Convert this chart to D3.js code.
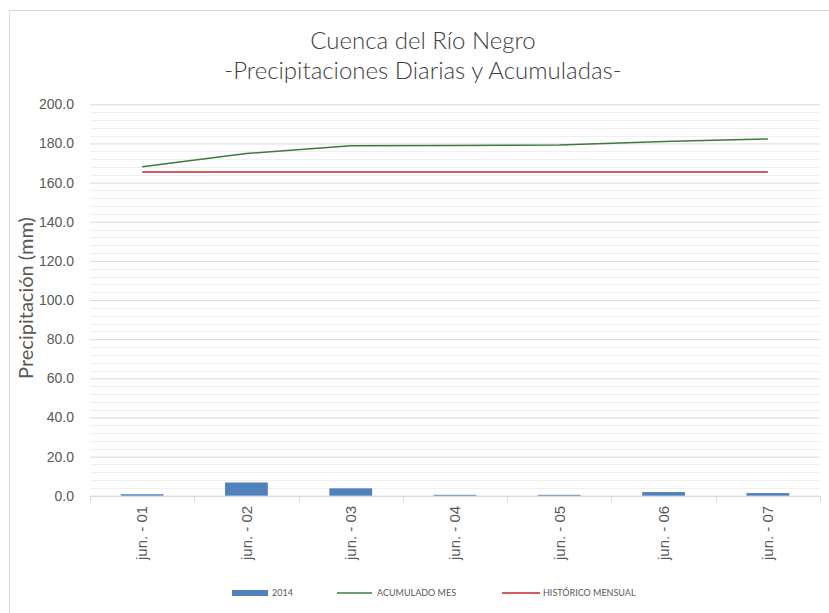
<!DOCTYPE html>
<html lang="es">
<head>
    <meta charset="UTF-8">
    <title>Cuenca del Río Negro</title>
    <script src="https://d3js.org/d3.v7.min.js"></script>
    <style>
        body { margin: 0; background: #fff; }
        svg { font-family: Lato, "Open Sans", sans-serif; }
        .tick text { fill: #595959; }
    </style>
</head>
<body>
    <svg width="829" height="613"></svg>
    <script>
        // data
        const dias = ["jun. - 01", "jun. - 02", "jun. - 03", "jun. - 04", "jun. - 05", "jun. - 06", "jun. - 07"];
        const lluvia2014 = [0.8, 6.8, 3.8, 0.5, 0.5, 1.9, 1.4];
        const acumuladoMes = [168.1, 174.9, 178.8, 179.0, 179.2, 181.0, 182.3];
        const historicoMensual = [165.4, 165.4, 165.4, 165.4, 165.4, 165.4, 165.4];
        const yTicks = [0, 20, 40, 60, 80, 100, 120, 140, 160, 180, 200];

        const svg = d3.select("svg");
        const margin = { left: 90, right: 820, top: 104.3, bottom: 495.8 };

        // chart border
        svg.append("rect")
            .attr("x", 9.5).attr("y", 10.5)
            .attr("width", 830).attr("height", 620)
            .attr("fill", "none").attr("stroke", "#d9d9d9");

        const x = d3.scaleBand().domain(dias).range([margin.left, margin.right]);
        const y = d3.scaleLinear().domain([0, 200]).range([margin.bottom, margin.top]);

        // minor gridlines every 4 mm
        svg.append("g").selectAll("line")
            .data(d3.range(0, 201, 4).filter(v => v % 20 !== 0))
            .join("line")
            .attr("x1", margin.left).attr("x2", margin.right)
            .attr("y1", d => Math.round(y(d)) + 0.5).attr("y2", d => Math.round(y(d)) + 0.5)
            .attr("stroke", "#efefef");

        // major gridlines + labels
        const yAxis = svg.append("g")
            .attr("transform", `translate(${margin.left},0)`)
            .call(d3.axisLeft(y).tickValues(yTicks).tickFormat(d3.format(".1f"))
                .tickSize(-(margin.right - margin.left)).tickPadding(16));
        yAxis.select(".domain").remove();
        yAxis.selectAll(".tick line").attr("stroke", "#d9d9d9");
        yAxis.selectAll(".tick text").attr("font-size", 14);

        // bars
        svg.append("g").selectAll("rect")
            .data(lluvia2014)
            .join("rect")
            .attr("x", (d, i) => x(dias[i]) + x.bandwidth() * 0.295)
            .attr("width", x.bandwidth() * 0.41)
            .attr("y", d => y(d))
            .attr("height", d => y(0) - y(d))
            .attr("fill", "#4f81bd");

        // x axis
        const xAxis = svg.append("g")
            .attr("transform", `translate(0,${margin.bottom})`)
            .call(d3.axisBottom(x).tickSize(0).tickPadding(0));
        xAxis.select(".domain").attr("stroke", "#d9d9d9");
        xAxis.selectAll(".tick text")
            .attr("font-size", 15)
            .attr("transform", "rotate(-90)")
            .attr("text-anchor", "end")
            .attr("x", -10)
            .attr("y", 0)
            .attr("dy", "0.35em");
        const bounds = dias.map(d => x(d)).concat([margin.right]);
        svg.append("g").selectAll("line")
            .data(bounds)
            .join("line")
            .attr("x1", d => Math.round(d) + 0.5).attr("x2", d => Math.round(d) + 0.5)
            .attr("y1", margin.bottom).attr("y2", margin.bottom + 6)
            .attr("stroke", "#d9d9d9");

        // lines
        const line = d3.line().x((d, i) => x(dias[i]) + x.bandwidth() / 2).y(d => y(d));
        svg.append("path").datum(historicoMensual)
            .attr("d", line).attr("fill", "none")
            .attr("stroke", "#c0282d").attr("stroke-width", 1.5);
        svg.append("path").datum(acumuladoMes)
            .attr("d", line).attr("fill", "none")
            .attr("stroke", "#3e7b3b").attr("stroke-width", 1.5);

        // titles
        svg.append("text").attr("x", 423).attr("y", 49)
            .attr("text-anchor", "middle").attr("font-size", 24).attr("font-weight", 300).attr("fill", "#404040")
            .text("Cuenca del Río Negro");
        svg.append("text").attr("x", 423).attr("y", 79)
            .attr("text-anchor", "middle").attr("font-size", 24).attr("font-weight", 300).attr("fill", "#404040")
            .text("-Precipitaciones Diarias y Acumuladas-");
        svg.append("text")
            .attr("transform", "translate(33,298) rotate(-90)")
            .attr("text-anchor", "middle").attr("font-size", 20).attr("fill", "#595959")
            .text("Precipitación (mm)");

        // legend
        const legend = svg.append("g").attr("font-size", 9).attr("fill", "#595959");
        legend.append("rect").attr("x", 232).attr("y", 590).attr("width", 36).attr("height", 6).attr("fill", "#4f81bd");
        legend.append("text").attr("x", 272).attr("y", 596).text("2014");
        legend.append("line").attr("x1", 337).attr("x2", 372).attr("y1", 593).attr("y2", 593)
            .attr("stroke", "#3e7b3b").attr("stroke-width", 1.5);
        legend.append("text").attr("x", 377).attr("y", 596).text("ACUMULADO MES");
        legend.append("line").attr("x1", 502).attr("x2", 540).attr("y1", 593).attr("y2", 593)
            .attr("stroke", "#c0282d").attr("stroke-width", 1.5);
        legend.append("text").attr("x", 543).attr("y", 596).text("HISTÓRICO MENSUAL");
    </script>
</body>
</html>
